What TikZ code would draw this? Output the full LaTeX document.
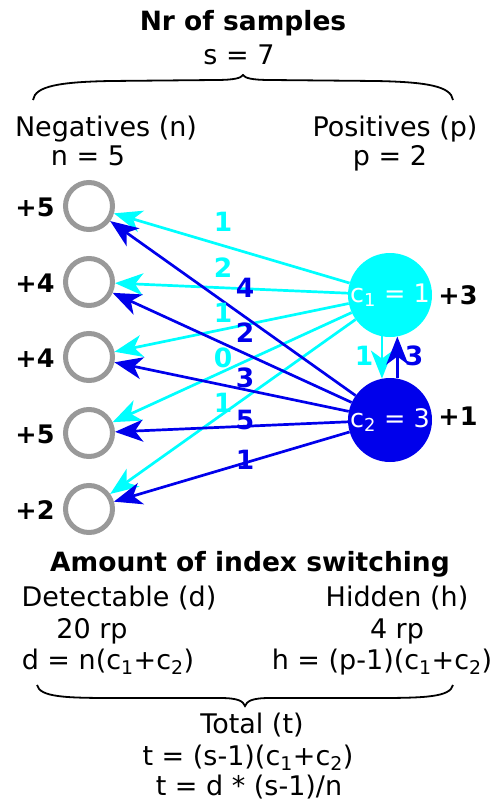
\documentclass[tikz,border=0pt]{standalone}
\usepackage{fontspec}
\setmainfont{DejaVu Sans}
\usetikzlibrary{arrows.meta}
\definecolor{pcyan}{RGB}{0,255,255}
\definecolor{pblue}{RGB}{0,0,235}
\definecolor{ngray}{RGB}{153,153,153}
\newcommand\lo[1]{\textsubscript{#1}}
\begin{document}
\begin{tikzpicture}[x=1pt,y=-1pt,
  >={Stealth[length=28pt,width=22pt,inset=8pt]},
  txt/.style={anchor=base,inner sep=0pt,font=\fontsize{27}{32}\selectfont},
  head/.style={anchor=base,inner sep=0pt,font=\fontsize{26.5}{32}\selectfont\bfseries},
  side/.style={inner sep=0pt,font=\fontsize{25.5}{30}\selectfont\bfseries},
  negnode/.style={circle,draw=ngray,line width=5pt,minimum size=47pt,inner sep=0pt},
  posnode/.style={circle,minimum size=84pt,inner sep=0pt,text=white,font=\fontsize{25.5}{30}\selectfont},
  carr/.style={->,draw=pcyan,fill=pcyan,line width=2.7pt},
  barr/.style={->,draw=pblue,fill=pblue,line width=2.7pt},
  clab/.style={inner sep=0pt,text=pcyan,font=\fontsize{26.5}{30}\selectfont\bfseries},
  blab/.style={inner sep=0pt,text=pblue,font=\fontsize{26.5}{30}\selectfont\bfseries},
  bracepath/.style={line width=1.8pt}]
\useasboundingbox (0,0) rectangle (494,808);

% header
\node[head] (title) at (243,31) {Nr of samples};
\node[txt] (sval) at (239,65) {s = 7};
\draw[bracepath] (33,100) .. controls (35,86) and (60,82) .. (110,81) -- (215,80)
  .. controls (235,80) and (241,78) .. (243,75)
  .. controls (245,78) and (251,80) .. (271,80) -- (376,81)
  .. controls (426,82) and (451,86) .. (453,100);
\node[txt] (negs) at (106,136) {Negatives (n)};
\node[txt] (nval) at (88,165) {n = 5};
\node[txt] (poss) at (395,136) {Positives (p)};
\node[txt] (pval) at (390,165) {p = 2};

% negative samples
\node[negnode] (n1) at (89,206) {};
\node[negnode] (n2) at (89,282) {};
\node[negnode] (n3) at (89,357) {};
\node[negnode] (n4) at (89,433) {};
\node[negnode] (n5) at (89,509) {};
\node[side] (s1) at (35,207) {+5};
\node[side] (s2) at (35,283) {+4};
\node[side] (s3) at (35,358) {+4};
\node[side] (s4) at (35,434) {+5};
\node[side] (s5) at (35,510) {+2};

% positive samples
\node[posnode,fill=pcyan] (c1) at (390,295) {c\lo{1} = 1};
\node[posnode,fill=pblue] (c2) at (390,420) {c\lo{2} = 3};
\node[side] (s6) at (458,295) {+3};
\node[side] (s7) at (458,416) {+1};

% switched reads from c1
\draw[carr] (c1) -- (n1);
\draw[carr] (c1) -- (n2);
\draw[carr] (c1) -- (n3);
\draw[carr] (c1) -- (n4);
\draw[carr] (c1) -- (n5);
\draw[carr] (c1.259) -- (c2.101);
% switched reads from c2
\draw[barr] (c2) -- (n1);
\draw[barr] (c2) -- (n2);
\draw[barr] (c2) -- (n3);
\draw[barr] (c2) -- (n4);
\draw[barr] (c2) -- (n5);
\draw[barr] (c2.80) -- (c1.280);

% read counts
\node[clab] (l1) at (223,222) {1};
\node[clab] (l2) at (223,268) {2};
\node[clab] (l3) at (223,313) {1};
\node[clab] (l4) at (223,358) {0};
\node[clab] (l5) at (223,403) {1};
\node[clab] (l6) at (364,356) {1};
\node[blab] (m1) at (245,288) {4};
\node[blab] (m2) at (245,333) {2};
\node[blab] (m3) at (245,378) {3};
\node[blab] (m4) at (245,420) {5};
\node[blab] (m5) at (245,460) {1};
\node[blab] (m6) at (414,356) {3};

% footer
\node[head] (amt) at (250,571) {Amount of index switching};
\node[txt] (det) at (119,606) {Detectable (d)};
\node[txt] (hid) at (397,606) {Hidden (h)};
\node[txt] (drp) at (92,638) {20 rp};
\node[txt] (hrp) at (397,638) {4 rp};
\node[txt] (dfor) at (108,669) {d = n(c\lo{1}+c\lo{2})};
\node[txt] (hfor) at (382,669) {h = (p-1)(c\lo{1}+c\lo{2})};
\draw[bracepath] (37,685) .. controls (40,697) and (64,698) .. (114,698) -- (220,698)
  .. controls (238,698) and (243,701) .. (245,706)
  .. controls (247,701) and (252,698) .. (270,698) -- (376,698)
  .. controls (426,698) and (450,697) .. (453,685);
\node[txt] (tot) at (252,733) {Total (t)};
\node[txt] (tfor) at (248,765) {t = (s-1)(c\lo{1}+c\lo{2})};
\node[txt] (tfor2) at (249,795) {t = d * (s-1)/n};
\end{tikzpicture}
\end{document}
